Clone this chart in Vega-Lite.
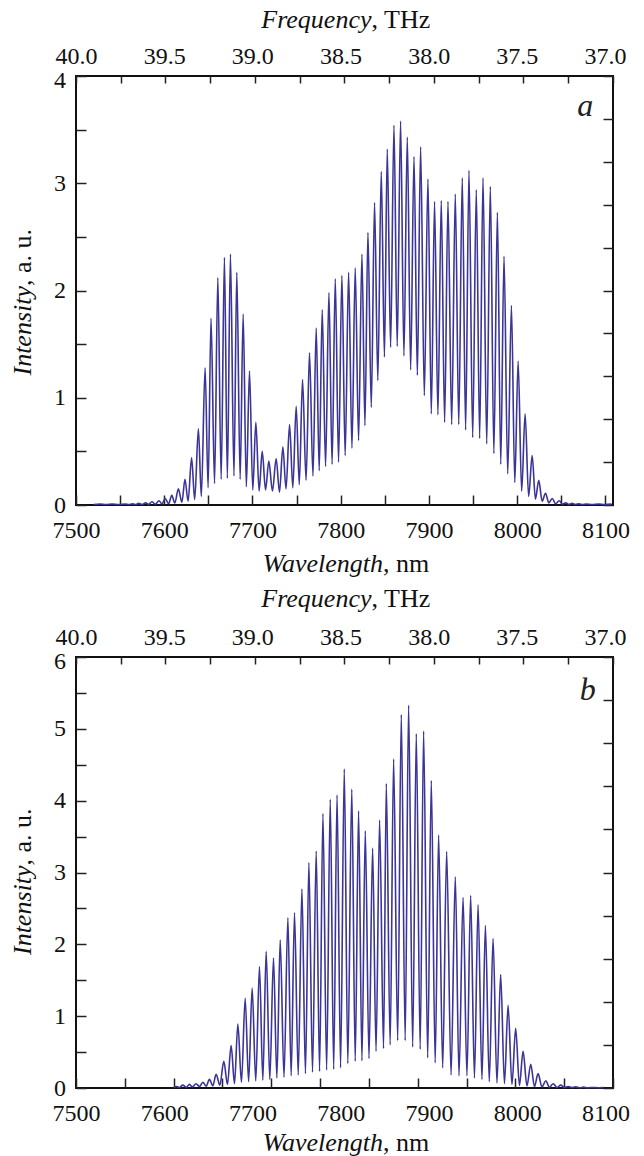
{
  "$schema": "https://vega.github.io/schema/vega-lite/v6.json",
  "padding": {"left": 8, "top": 5, "right": 5, "bottom": 5},
  "spacing": 152,
  "bounds": "flush",
  "config": {
    "font": "Liberation Serif",
    "view": {"stroke": "#111111", "strokeWidth": 2},
    "axis": {"grid": false, "domain": false, "tickColor": "#222222", "tickWidth": 1.5, "labelColor": "#111111", "titleColor": "#111111", "labelFont": "Liberation Serif", "titleFont": "Liberation Serif", "labelFontSize": 24, "titleFontSize": 26, "titleFontWeight": "normal", "labelFlush": false, "labelOverlap": false, "labelBound": false}
  },
  "datasets": {
    "a": [
      {"wl":7520,"int":0.005},{"wl":7527,"int":0.01},{"wl":7534,"int":0.004},{"wl":7541,"int":0.01},{"wl":7548,"int":0.004},{"wl":7556,"int":0.01},{"wl":7560,"int":0.004},{"wl":7564,"int":0.012},{"wl":7568,"int":0.004},{"wl":7571,"int":0.015},{"wl":7575,"int":0.005},{"wl":7579,"int":0.02},{"wl":7582.5,"int":0.006},{"wl":7586,"int":0.03},{"wl":7590,"int":0.008},{"wl":7594,"int":0.04},{"wl":7597.5,"int":0.01},{"wl":7601,"int":0.06},{"wl":7605,"int":0.012},{"wl":7608.5,"int":0.09},{"wl":7612,"int":0.018},{"wl":7616,"int":0.15},{"wl":7620,"int":0.025},{"wl":7623.5,"int":0.24},{"wl":7627,"int":0.035},{"wl":7631,"int":0.44},{"wl":7634.5,"int":0.05},{"wl":7638.7,"int":0.71},{"wl":7642,"int":0.08},{"wl":7646.3,"int":1.28},{"wl":7649.7,"int":0.16},{"wl":7653,"int":1.74},{"wl":7657,"int":0.2},{"wl":7660.7,"int":2.12},{"wl":7664.5,"int":0.24},{"wl":7668.2,"int":2.31},{"wl":7671.5,"int":0.25},{"wl":7675,"int":2.34},{"wl":7679,"int":0.27},{"wl":7682.2,"int":2.17},{"wl":7686,"int":0.24},{"wl":7689.4,"int":1.78},{"wl":7693,"int":0.17},{"wl":7696.6,"int":1.25},{"wl":7700.3,"int":0.14},{"wl":7703.8,"int":0.77},{"wl":7707.5,"int":0.13},{"wl":7711,"int":0.5},{"wl":7714.8,"int":0.14},{"wl":7718.5,"int":0.41},{"wl":7722.6,"int":0.13},{"wl":7726.8,"int":0.43},{"wl":7730.6,"int":0.12},{"wl":7734.4,"int":0.54},{"wl":7738,"int":0.15},{"wl":7742,"int":0.75},{"wl":7745.7,"int":0.16},{"wl":7749.5,"int":0.92},{"wl":7753,"int":0.19},{"wl":7756.7,"int":1.17},{"wl":7760.7,"int":0.23},{"wl":7764.6,"int":1.42},{"wl":7768.5,"int":0.27},{"wl":7772.2,"int":1.65},{"wl":7775.6,"int":0.32},{"wl":7779,"int":1.82},{"wl":7782.8,"int":0.36},{"wl":7786.6,"int":1.98},{"wl":7790.2,"int":0.38},{"wl":7793.8,"int":2.11},{"wl":7797.5,"int":0.4},{"wl":7801.3,"int":2.14},{"wl":7805,"int":0.46},{"wl":7808.9,"int":2.17},{"wl":7812.7,"int":0.53},{"wl":7816.4,"int":2.21},{"wl":7820.2,"int":0.6},{"wl":7824,"int":2.34},{"wl":7827.4,"int":0.74},{"wl":7830.8,"int":2.54},{"wl":7834.6,"int":0.91},{"wl":7838.3,"int":2.82},{"wl":7842,"int":1.16},{"wl":7845.9,"int":3.11},{"wl":7849.5,"int":1.38},{"wl":7852.7,"int":3.32},{"wl":7856.5,"int":1.47},{"wl":7860.3,"int":3.54},{"wl":7864,"int":1.48},{"wl":7867.8,"int":3.58},{"wl":7871.6,"int":1.39},{"wl":7875.4,"int":3.43},{"wl":7879.2,"int":1.26},{"wl":7883,"int":3.25},{"wl":7886.8,"int":1.21},{"wl":7890.5,"int":3.34},{"wl":7894.7,"int":1.02},{"wl":7898.8,"int":3.04},{"wl":7902.6,"int":0.85},{"wl":7906.3,"int":2.83},{"wl":7910.1,"int":0.84},{"wl":7913.9,"int":2.84},{"wl":7917.7,"int":0.77},{"wl":7921.5,"int":2.83},{"wl":7925.7,"int":0.75},{"wl":7929.8,"int":2.9},{"wl":7933.7,"int":0.75},{"wl":7937.7,"int":3.05},{"wl":7941.5,"int":0.7},{"wl":7945.3,"int":3.12},{"wl":7949.5,"int":0.63},{"wl":7953.6,"int":2.94},{"wl":7957.4,"int":0.62},{"wl":7961.2,"int":3.05},{"wl":7965.4,"int":0.57},{"wl":7969.5,"int":2.97},{"wl":7973.5,"int":0.48},{"wl":7977.5,"int":2.73},{"wl":7981.3,"int":0.38},{"wl":7985,"int":2.32},{"wl":7989.2,"int":0.29},{"wl":7993.4,"int":1.86},{"wl":7997.2,"int":0.21},{"wl":8001,"int":1.34},{"wl":8005,"int":0.13},{"wl":8008.9,"int":0.85},{"wl":8012.9,"int":0.08},{"wl":8016.9,"int":0.46},{"wl":8020.6,"int":0.055},{"wl":8024.4,"int":0.23},{"wl":8028.2,"int":0.035},{"wl":8032,"int":0.11},{"wl":8035.8,"int":0.02},{"wl":8039.6,"int":0.06},{"wl":8043.5,"int":0.012},{"wl":8047.5,"int":0.04},{"wl":8051.2,"int":0.008},{"wl":8055,"int":0.02},{"wl":8058.5,"int":0.006},{"wl":8062,"int":0.015},{"wl":8066,"int":0.005},{"wl":8070,"int":0.012},{"wl":8074,"int":0.004},{"wl":8078,"int":0.01},{"wl":8085,"int":0.004},{"wl":8092,"int":0.01},{"wl":8099,"int":0.004},{"wl":8107,"int":0.008}
    ],
    "b": [
      {"wl":7611,"int":0.005},{"wl":7614,"int":0.02},{"wl":7617,"int":0.006},{"wl":7621,"int":0.04},{"wl":7625,"int":0.01},{"wl":7628.5,"int":0.05},{"wl":7632,"int":0.015},{"wl":7636,"int":0.06},{"wl":7640,"int":0.02},{"wl":7643.7,"int":0.08},{"wl":7647.5,"int":0.025},{"wl":7651.2,"int":0.12},{"wl":7655,"int":0.03},{"wl":7658.8,"int":0.19},{"wl":7663,"int":0.04},{"wl":7667.5,"int":0.37},{"wl":7671.6,"int":0.05},{"wl":7675.8,"int":0.59},{"wl":7679.6,"int":0.06},{"wl":7683.4,"int":0.89},{"wl":7687.5,"int":0.08},{"wl":7691.7,"int":1.25},{"wl":7695.6,"int":0.09},{"wl":7699.6,"int":1.39},{"wl":7703.7,"int":0.1},{"wl":7707.9,"int":1.69},{"wl":7711.7,"int":0.11},{"wl":7715.5,"int":1.9},{"wl":7719.6,"int":0.12},{"wl":7723.8,"int":1.81},{"wl":7727.6,"int":0.14},{"wl":7731.4,"int":2.06},{"wl":7735.7,"int":0.15},{"wl":7740.1,"int":2.37},{"wl":7743.8,"int":0.17},{"wl":7747.6,"int":2.44},{"wl":7751.8,"int":0.18},{"wl":7756,"int":2.77},{"wl":7760,"int":0.2},{"wl":7763.9,"int":3.14},{"wl":7768,"int":0.22},{"wl":7772.2,"int":3.3},{"wl":7776,"int":0.23},{"wl":7779.8,"int":3.82},{"wl":7784,"int":0.25},{"wl":7788.1,"int":4.02},{"wl":7792,"int":0.26},{"wl":7795.8,"int":4.08},{"wl":7799.8,"int":0.28},{"wl":7804,"int":4.44},{"wl":7808,"int":0.34},{"wl":7812.5,"int":4.16},{"wl":7816.4,"int":0.37},{"wl":7820.2,"int":3.86},{"wl":7824,"int":0.38},{"wl":7827.8,"int":3.58},{"wl":7832,"int":0.41},{"wl":7836.1,"int":3.34},{"wl":7840,"int":0.51},{"wl":7844,"int":3.73},{"wl":7848.5,"int":0.55},{"wl":7851.6,"int":4.24},{"wl":7856,"int":0.6},{"wl":7859.9,"int":4.58},{"wl":7864.5,"int":0.66},{"wl":7868.6,"int":5.2},{"wl":7873,"int":0.66},{"wl":7876.9,"int":5.33},{"wl":7881.5,"int":0.57},{"wl":7885.6,"int":4.93},{"wl":7890,"int":0.54},{"wl":7893.9,"int":4.97},{"wl":7898.5,"int":0.42},{"wl":7902.6,"int":4.28},{"wl":7907,"int":0.35},{"wl":7910.9,"int":3.52},{"wl":7915.5,"int":0.28},{"wl":7920,"int":3.29},{"wl":7925,"int":0.18},{"wl":7929.8,"int":2.94},{"wl":7934,"int":0.17},{"wl":7938.6,"int":2.65},{"wl":7943,"int":0.17},{"wl":7947.2,"int":2.68},{"wl":7951.5,"int":0.14},{"wl":7955.6,"int":2.55},{"wl":7960,"int":0.12},{"wl":7963.9,"int":2.26},{"wl":7968.3,"int":0.09},{"wl":7972.6,"int":2.08},{"wl":7977,"int":0.07},{"wl":7981.2,"int":1.58},{"wl":7985.5,"int":0.06},{"wl":7989.6,"int":1.15},{"wl":7994,"int":0.05},{"wl":7998.2,"int":0.83},{"wl":8002.5,"int":0.035},{"wl":8006.6,"int":0.51},{"wl":8011,"int":0.03},{"wl":8015.3,"int":0.33},{"wl":8019.5,"int":0.02},{"wl":8023.6,"int":0.2},{"wl":8028,"int":0.015},{"wl":8032.3,"int":0.1},{"wl":8036.5,"int":0.01},{"wl":8040.7,"int":0.06},{"wl":8045,"int":0.008},{"wl":8049.3,"int":0.04},{"wl":8053.5,"int":0.006},{"wl":8057.6,"int":0.02},{"wl":8062,"int":0.005},{"wl":8066,"int":0.015},{"wl":8071,"int":0.004},{"wl":8075,"int":0.012},{"wl":8080,"int":0.004},{"wl":8086,"int":0.008},{"wl":8092,"int":0.004},{"wl":8098,"int":0.006}
    ],
    "span": [{"wl": 7500, "f": 40, "int": 0}, {"wl": 8100, "f": 37, "int": 4}],
    "labA": [{"wl": 8077, "int": 3.63, "t": "a"}],
    "labB": [{"wl": 8080, "int": 5.4, "t": "b"}]
  },
  "vconcat": [
    {
      "width": 537,
      "height": 429,
      "resolve": {"scale": {"x": "independent", "y": "independent"}},
      "layer": [
        {
          "data": {"name": "a"},
          "mark": {"type": "line", "color": "#3a3596", "strokeWidth": 1.6, "interpolate": "monotone"},
          "encoding": {
            "x": {"field": "wl", "type": "quantitative", "scale": {"domain": [7500, 8108.5], "nice": false, "zero": false},
              "axis": {"orient": "bottom", "values": [7500,7550,7600,7650,7700,7750,7800,7850,7900,7950,8000,8050,8100], "labels": false, "tickSize": -10, "title": "Wavelength", "titleFontStyle": "italic", "titleAlign": "right", "titleX": 306.5, "titleY": 66, "titleBaseline": "alphabetic"}},
            "y": {"field": "int", "type": "quantitative", "scale": {"domain": [0, 4], "nice": false, "zero": false},
              "axis": {"orient": "left", "values": [0,0.5,1,1.5,2,2.5,3,3.5,4], "labelExpr": "datum.value % 1 === 0 ? format(datum.value, 'd') : ''", "labelOffset": {"condition": {"test": "datum.value === 4", "value": 4}, "value": 0}, "tickSize": -10, "labelPadding": 20.5, "title": "Intensity", "titleFontStyle": "italic", "titleAlign": "right", "titleAngle": 270, "titleX": -46, "titleY": 209.5, "titleBaseline": "alphabetic"}}
          }
        },
        {
          "data": {"name": "span"},
          "mark": {"type": "point", "opacity": 0},
          "encoding": {
            "x": {"field": "wl", "type": "quantitative", "scale": {"domain": [7500, 8108.5], "nice": false, "zero": false},
              "axis": {"orient": "bottom", "values": [7500,7600,7700,7800,7900,8000,8100], "format": "d", "ticks": false, "labelPadding": 13, "title": ", nm", "titleAlign": "left", "titleX": 306.5, "titleY": 66, "titleBaseline": "alphabetic"}},
            "y": {"field": "int", "type": "quantitative", "scale": {"domain": [0, 4], "nice": false, "zero": false},
              "axis": {"orient": "left", "ticks": false, "labels": false, "title": ", a. u.", "titleAlign": "left", "titleAngle": 270, "titleX": -46, "titleY": 209.5, "titleBaseline": "alphabetic"}}
          }
        },
        {
          "data": {"name": "span"},
          "mark": {"type": "point", "opacity": 0},
          "encoding": {
            "x": {"field": "f", "type": "quantitative", "scale": {"domain": [36.9546, 40], "reverse": true, "nice": false, "zero": false},
              "axis": {"orient": "top", "values": [40,39.5,39,38.5,38,37.5,37], "format": ".1f", "ticks": false, "labelPadding": 8, "title": "Frequency", "titleFontStyle": "italic", "titleAlign": "right", "titleX": 295, "titleY": -49, "titleBaseline": "alphabetic"}},
            "y": {"field": "int", "type": "quantitative", "scale": {"domain": [0, 4], "nice": false, "zero": false},
              "axis": {"orient": "right", "values": [0,0.4,0.8,1.2,1.6,2,2.4,2.8,3.2,3.6,4], "labels": false, "tickSize": -10, "title": null}}
          }
        },
        {
          "data": {"name": "span"},
          "mark": {"type": "point", "opacity": 0},
          "encoding": {
            "x": {"field": "f", "type": "quantitative", "scale": {"domain": [36.9546, 40], "reverse": true, "nice": false, "zero": false},
              "axis": {"orient": "top", "values": [40,39.74622,39.49244,39.23866,38.98488,38.7311,38.47732,38.22354,37.96976,37.71598,37.4622,37.20842,36.9546], "labels": false, "tickSize": -7, "title": ", THz", "titleAlign": "left", "titleX": 295, "titleY": -49, "titleBaseline": "alphabetic"}}
          }
        },
        {
          "data": {"name": "labA"},
          "mark": {"type": "text", "font": "Liberation Serif", "fontStyle": "italic", "fontSize": 32, "color": "#222222", "align": "center", "baseline": "alphabetic"},
          "encoding": {
            "x": {"field": "wl", "type": "quantitative", "scale": {"domain": [7500, 8108.5], "nice": false, "zero": false}, "axis": null},
            "y": {"field": "int", "type": "quantitative", "scale": {"domain": [0, 4], "nice": false, "zero": false}, "axis": null},
            "text": {"field": "t"}
          }
        }
      ]
    },
    {
      "width": 537,
      "height": 431,
      "resolve": {"scale": {"x": "independent", "y": "independent"}},
      "layer": [
        {
          "data": {"name": "b"},
          "mark": {"type": "line", "color": "#3a3596", "strokeWidth": 1.6, "interpolate": "monotone"},
          "encoding": {
            "x": {"field": "wl", "type": "quantitative", "scale": {"domain": [7500, 8108.5], "nice": false, "zero": false},
              "axis": {"orient": "bottom", "values": [7500,7555.32,7610.64,7665.95,7721.27,7776.59,7831.91,7887.23,7942.55,7997.86,8053.18,8108.5], "labels": false, "tickSize": -10, "title": "Wavelength", "titleFontStyle": "italic", "titleAlign": "right", "titleX": 306.5, "titleY": 62, "titleBaseline": "alphabetic"}},
            "y": {"field": "int", "type": "quantitative", "scale": {"domain": [0, 6], "nice": false, "zero": false},
              "axis": {"orient": "left", "values": [0,0.5,1,1.5,2,2.5,3,3.5,4,4.5,5,5.5,6], "labelExpr": "datum.value % 1 === 0 ? format(datum.value, 'd') : ''", "labelOffset": {"condition": {"test": "datum.value === 6", "value": 4}, "value": 0}, "tickSize": -10, "labelPadding": 20.5, "title": "Intensity", "titleFontStyle": "italic", "titleAlign": "right", "titleAngle": 270, "titleX": -46, "titleY": 208, "titleBaseline": "alphabetic"}}
          }
        },
        {
          "data": {"name": "span"},
          "mark": {"type": "point", "opacity": 0},
          "encoding": {
            "x": {"field": "wl", "type": "quantitative", "scale": {"domain": [7500, 8108.5], "nice": false, "zero": false},
              "axis": {"orient": "bottom", "values": [7500,7600,7700,7800,7900,8000,8100], "format": "d", "ticks": false, "labelPadding": 13, "title": ", nm", "titleAlign": "left", "titleX": 306.5, "titleY": 62, "titleBaseline": "alphabetic"}},
            "y": {"field": "int", "type": "quantitative", "scale": {"domain": [0, 6], "nice": false, "zero": false},
              "axis": {"orient": "left", "ticks": false, "labels": false, "title": ", a. u.", "titleAlign": "left", "titleAngle": 270, "titleX": -46, "titleY": 208, "titleBaseline": "alphabetic"}}
          }
        },
        {
          "data": {"name": "span"},
          "mark": {"type": "point", "opacity": 0},
          "encoding": {
            "x": {"field": "f", "type": "quantitative", "scale": {"domain": [36.9546, 40], "reverse": true, "nice": false, "zero": false},
              "axis": {"orient": "top", "values": [40,39.5,39,38.5,38,37.5,37], "format": ".1f", "ticks": false, "labelPadding": 8, "title": "Frequency", "titleFontStyle": "italic", "titleAlign": "right", "titleX": 295, "titleY": -51, "titleBaseline": "alphabetic"}},
            "y": {"field": "int", "type": "quantitative", "scale": {"domain": [0, 6], "nice": false, "zero": false},
              "axis": {"orient": "right", "values": [0,0.6,1.2,1.8,2.4,3,3.6,4.2,4.8,5.4,6], "labels": false, "tickSize": -10, "title": null}}
          }
        },
        {
          "data": {"name": "span"},
          "mark": {"type": "point", "opacity": 0},
          "encoding": {
            "x": {"field": "f", "type": "quantitative", "scale": {"domain": [36.9546, 40], "reverse": true, "nice": false, "zero": false},
              "axis": {"orient": "top", "values": [40,39.74622,39.49244,39.23866,38.98488,38.7311,38.47732,38.22354,37.96976,37.71598,37.4622,37.20842,36.9546], "labels": false, "tickSize": -7, "title": ", THz", "titleAlign": "left", "titleX": 295, "titleY": -51, "titleBaseline": "alphabetic"}}
          }
        },
        {
          "data": {"name": "labB"},
          "mark": {"type": "text", "font": "Liberation Serif", "fontStyle": "italic", "fontSize": 32, "color": "#222222", "align": "center", "baseline": "alphabetic"},
          "encoding": {
            "x": {"field": "wl", "type": "quantitative", "scale": {"domain": [7500, 8108.5], "nice": false, "zero": false}, "axis": null},
            "y": {"field": "int", "type": "quantitative", "scale": {"domain": [0, 6], "nice": false, "zero": false}, "axis": null},
            "text": {"field": "t"}
          }
        }
      ]
    }
  ]
}
